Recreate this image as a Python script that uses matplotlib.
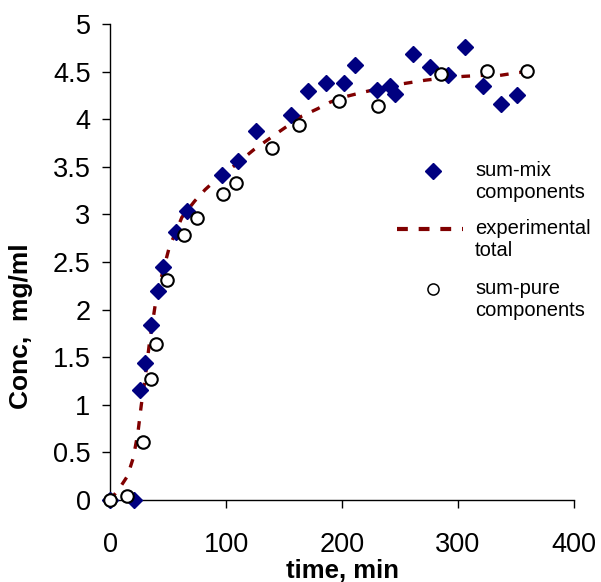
import matplotlib
matplotlib.use("Agg")
import matplotlib.pyplot as plt
from matplotlib.lines import Line2D

plt.rcParams['font.family'] = ['Liberation Sans', 'DejaVu Sans']

# sum-mix components
t_mix = [0, 21, 26, 30.5, 35.5, 41, 46, 56.5, 66, 96.6, 110, 125.6, 155.7, 171, 186,
         201.4, 211, 230.5, 241.6, 246, 261, 276, 291.7, 306, 321.6, 336.8, 350.6]
c_mix = [0, 0, 1.155, 1.44, 1.84, 2.20, 2.45, 2.82, 3.04, 3.41, 3.56, 3.88, 4.04, 4.30, 4.38,
         4.38, 4.57, 4.31, 4.35, 4.26, 4.68, 4.55, 4.46, 4.755, 4.35, 4.16, 4.25]

# experimental total
t_exp = [0, 8, 15, 20, 24, 27, 30, 34, 39, 43, 51, 62, 73, 82, 91, 103, 124, 146, 165,
         179, 190, 204, 217, 246, 272, 286, 305, 320, 336, 352, 360]
c_exp = [0, 0.12, 0.25, 0.44, 0.70, 1.00, 1.25, 1.65, 2.05, 2.28, 2.65, 2.97, 3.14, 3.26,
         3.36, 3.47, 3.68, 3.87, 4.03, 4.11, 4.18, 4.24, 4.28, 4.36, 4.41, 4.43, 4.45,
         4.46, 4.46, 4.49, 4.50]

# sum-pure components
t_pure = [0, 14.4, 28.2, 35, 39.7, 49.1, 64, 75.3, 97.7, 108.3, 139.9, 163.2, 197.7,
          231.3, 285, 325, 359.5]
c_pure = [0, 0.04, 0.61, 1.27, 1.635, 2.31, 2.78, 2.96, 3.21, 3.33, 3.70, 3.935, 4.19,
          4.14, 4.475, 4.51, 4.51]

x_ticks = [0, 100, 200, 300, 400]
y_ticks = [0, 0.5, 1, 1.5, 2, 2.5, 3, 3.5, 4, 4.5, 5]
y_tick_labels = ['0', '0.5', '1', '1.5', '2', '2.5', '3', '3.5', '4', '4.5', '5']
legend_labels = ['sum-mix\ncomponents', 'experimental\ntotal', 'sum-pure\ncomponents']

navy = '#000080'
maroon = '#800000'

W, H = 601, 582
fig = plt.figure(figsize=(W / 100, H / 100), dpi=100)
ax = fig.add_axes([110 / W, 82 / H, 464 / W, 476 / H])

ax.plot(t_exp, c_exp, color=maroon, lw=2.4, dashes=(2.6, 3.2), zorder=2)
ax.plot(t_mix, c_mix, ls='none', marker='D', ms=8.5, color=navy, mec=navy,
        zorder=3, clip_on=False)
ax.plot(t_pure, c_pure, ls='none', marker='o', ms=9, mfc='white', mec='black',
        mew=1.5, zorder=4, clip_on=False)

ax.set_xlim(0, 400)
ax.set_ylim(0, 5)
ax.set_xticks(x_ticks)
ax.set_yticks(y_ticks)
ax.set_yticklabels(y_tick_labels)
ax.tick_params(axis='both', direction='out', length=6, width=1, labelsize=19.5)
ax.tick_params(axis='x', pad=17)
ax.tick_params(axis='y', pad=8)
for s in ['top', 'right']:
    ax.spines[s].set_visible(False)
for s in ['left', 'bottom']:
    ax.spines[s].set_linewidth(1)

ax.set_xlabel('time, min', fontsize=18.5, fontweight='bold')
ax.xaxis.label.set_va('center')
ax.xaxis.set_label_coords(0.5, (500 - 571) / 476)
ax.set_ylabel('Conc,  mg/ml', fontsize=19, fontweight='bold')
ax.yaxis.label.set_va('center')
ax.yaxis.set_label_coords((21 - 110) / 464, (500 - 326) / 476)


# legend drawn in figure pixel coordinates (y measured from the top)
def fx(px):
    return px / W


def fy(py):
    return 1 - py / H


tf = fig.transFigure
fig.add_artist(Line2D([fx(433)], [fy(171)], ls='none', marker='D', ms=8,
                      color=navy, transform=tf))
fig.add_artist(Line2D([fx(397), fx(463)], [fy(229), fy(229)], color=maroon, lw=3,
                      dashes=(2.6, 2.6), transform=tf))
fig.add_artist(Line2D([fx(433)], [fy(289)], ls='none', marker='o', ms=8,
                      mfc='white', mec='black', mew=1.1, transform=tf))
for label, py in zip(legend_labels, [171, 229, 289]):
    fig.text(fx(475), fy(py - 10), label, fontsize=14.5, ha='left', va='top',
             linespacing=1.22)

fig.savefig('out.png', dpi=100)
